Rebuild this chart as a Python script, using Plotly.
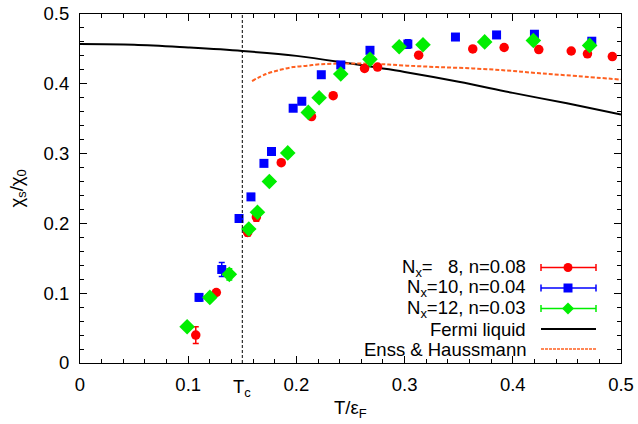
import plotly.graph_objects as go

# ---------------- data ----------------
nx8_T = [0.107, 0.126, 0.155, 0.163, 0.186, 0.214, 0.234, 0.263, 0.275, 0.313, 0.363, 0.392, 0.424, 0.454, 0.469, 0.492]
nx8_chi = [0.040, 0.101, 0.187, 0.209, 0.287, 0.353, 0.383, 0.422, 0.424, 0.441, 0.450, 0.452, 0.449, 0.447, 0.443, 0.439]
nx8_err = [0.012, 0.004, 0.005, 0.006, 0.003, 0.003, 0.003, 0.003, 0.003, 0.003, 0.003, 0.003, 0.003, 0.003, 0.003, 0.003]

nx10_T = [0.110, 0.131, 0.147, 0.158, 0.170, 0.177, 0.197, 0.205, 0.223, 0.241, 0.268, 0.303, 0.347, 0.385, 0.420, 0.473]
nx10_chi = [0.094, 0.134, 0.207, 0.238, 0.286, 0.303, 0.365, 0.375, 0.413, 0.427, 0.448, 0.457, 0.467, 0.470, 0.471, 0.461]
nx10_err = [0.005, 0.010, 0.004, 0.003, 0.003, 0.003, 0.003, 0.003, 0.003, 0.003, 0.003, 0.006, 0.003, 0.003, 0.004, 0.003]

nx12_T = [0.099, 0.120, 0.138, 0.156, 0.164, 0.175, 0.192, 0.211, 0.221, 0.241, 0.268, 0.295, 0.317, 0.374, 0.419, 0.471]
nx12_chi = [0.052, 0.094, 0.127, 0.192, 0.216, 0.260, 0.301, 0.359, 0.380, 0.414, 0.435, 0.453, 0.456, 0.460, 0.462, 0.455]
nx12_err = [0.004, 0.004, 0.008, 0.005, 0.005, 0.003, 0.003, 0.003, 0.003, 0.003, 0.003, 0.003, 0.003, 0.003, 0.003, 0.003]

fermi_T = [0.0, 0.05, 0.10, 0.15, 0.20, 0.25, 0.30, 0.35, 0.40, 0.45, 0.50]
fermi_chi = [0.457, 0.456, 0.452, 0.447, 0.440, 0.429, 0.417, 0.403, 0.387, 0.372, 0.356]

enss_T = [0.159, 0.172, 0.185, 0.197, 0.210, 0.222, 0.240, 0.259, 0.280, 0.302, 0.330, 0.363, 0.395, 0.425, 0.460, 0.500]
enss_chi = [0.404, 0.414, 0.420, 0.424, 0.426, 0.428, 0.429, 0.429, 0.428, 0.426, 0.424, 0.422, 0.419, 0.415, 0.411, 0.406]

Tc = 0.15
x_ticks = [0, 0.1, 0.2, 0.3, 0.4, 0.5]
y_ticks = [0, 0.1, 0.2, 0.3, 0.4, 0.5]

legend_labels = ["N<sub>x</sub>=\u2007 8, n=0.08", "N<sub>x</sub>=10, n=0.04", "N<sub>x</sub>=12, n=0.03",
                 "Fermi liquid", "Enss & Haussmann"]

RED, BLUE, GREEN, ORANGE = "#ff0000", "#0000ff", "#00ee00", "#ff6020"
FONT = "Liberation Sans, Arial, sans-serif"
FS = 18.5

W, H = 638, 424
L, R, T, B = 80, 17, 14, 61

fig = go.Figure()

fig.add_trace(go.Scatter(x=fermi_T, y=fermi_chi, mode="lines", line=dict(color="black", width=2, shape="spline"),
                         showlegend=False))
fig.add_trace(go.Scatter(x=enss_T, y=enss_chi, mode="lines",
                         line=dict(color=ORANGE, width=2, dash="4px,2px", shape="spline"), showlegend=False))

def data_trace(x, y, e, color, symbol, size):
    return go.Scatter(x=x, y=y, mode="markers",
                      marker=dict(color=color, symbol=symbol, size=size, line=dict(width=0)),
                      error_y=dict(type="data", array=e, visible=True, color=color, thickness=1.5, width=3),
                      showlegend=False, cliponaxis=False)

fig.add_trace(data_trace(nx8_T, nx8_chi, nx8_err, RED, "circle", 9.5))
fig.add_trace(data_trace(nx10_T, nx10_chi, nx10_err, BLUE, "square", 9))
fig.add_trace(data_trace(nx12_T, nx12_chi, nx12_err, GREEN, "diamond", 12))

# Tc dashed line
fig.add_shape(type="line", x0=Tc, x1=Tc, y0=0, y1=1, xref="x", yref="paper",
              line=dict(color="black", width=1, dash="3px,2px"))

# manual legend (pixel positions converted to paper coords)
pw, ph = W - L - R, H - T - B
def px(xp): return (xp - L) / pw
def py(yp): return (H - B - yp) / ph

rows = [267.5, 288, 308.5, 329, 349]
text_right = 528
line_x0, line_x1, mark_x = 541, 596, 568
styles = [(RED, "circle"), (BLUE, "square"), (GREEN, "diamond"), ("black", None), (ORANGE, None)]
for i, (lab, yrow, (col, sym)) in enumerate(zip(legend_labels, rows, styles)):
    fig.add_annotation(x=px(text_right), y=py(yrow), xref="paper", yref="paper", text=lab,
                       showarrow=False, xanchor="right", yanchor="middle",
                       font=dict(family=FONT, size=FS, color="black"))
    if i < 3:
        fig.add_shape(type="line", xref="paper", yref="paper", x0=px(line_x0), x1=px(line_x1),
                      y0=py(yrow), y1=py(yrow), line=dict(color=col, width=1.5))
        for xc in (line_x0, line_x1):
            fig.add_shape(type="line", xref="paper", yref="paper", x0=px(xc), x1=px(xc),
                          y0=py(yrow - 3.5), y1=py(yrow + 3.5), line=dict(color=col, width=1.5))
        xa, ya = px(mark_x), py(yrow)
        if sym == "circle":
            fig.add_shape(type="circle", xref="paper", yref="paper", xsizemode="pixel", ysizemode="pixel",
                          xanchor=xa, yanchor=ya, x0=-4.5, x1=4.5, y0=-4.5, y1=4.5,
                          fillcolor=col, line=dict(width=0))
        elif sym == "square":
            fig.add_shape(type="rect", xref="paper", yref="paper", xsizemode="pixel", ysizemode="pixel",
                          xanchor=xa, yanchor=ya, x0=-4.5, x1=4.5, y0=-4.5, y1=4.5,
                          fillcolor=col, line=dict(width=0))
        else:
            fig.add_shape(type="path", xref="paper", yref="paper", xsizemode="pixel", ysizemode="pixel",
                          xanchor=xa, yanchor=ya, path="M -6 0 L 0 6 L 6 0 L 0 -6 Z",
                          fillcolor=col, line=dict(width=0))
    else:
        fig.add_shape(type="line", xref="paper", yref="paper", x0=px(line_x0), x1=px(line_x1),
                      y0=py(yrow), y1=py(yrow),
                      line=dict(color=col, width=2 if i == 3 else 1.5,
                                dash="solid" if i == 3 else "3px,1px"))

# Tc tick label
fig.add_annotation(x=Tc, y=0, xref="x", yref="paper", yshift=-11, text="T<sub>c</sub>", showarrow=False,
                   xanchor="center", yanchor="top", font=dict(family=FONT, size=FS, color="black"))

# y-axis title placed as rotated annotation
fig.add_annotation(x=px(17), y=0.5, xref="paper", yref="paper", text="χ<sub>s</sub>/χ<sub>0</sub>",
                   showarrow=False, textangle=-90, xanchor="center", yanchor="middle",
                   font=dict(family=FONT, size=FS, color="black"))
# x-axis title
fig.add_annotation(x=0.5, y=py(409), xref="paper", yref="paper", text="T/ε<sub>F</sub>",
                   showarrow=False, xanchor="center", yanchor="middle",
                   font=dict(family=FONT, size=FS, color="black"))

axis_common = dict(showgrid=False, zeroline=False, showline=True, linecolor="black", linewidth=1,
                   mirror="allticks", ticks="inside", ticklen=7, tickwidth=1, tickcolor="black",
                   automargin=False, range=[0, 0.5],
                   tickfont=dict(family=FONT, size=FS, color="black"),
                   minor=dict(ticks="inside", dtick=0.02, tick0=0, ticklen=4, tickcolor="black"))

fig.update_xaxes(tickvals=x_ticks, ticktext=[("%g" % v) for v in x_ticks], ticklabelstandoff=5, **axis_common)
fig.update_yaxes(tickvals=y_ticks, ticktext=[("%g" % v) for v in y_ticks], ticklabelstandoff=6, **axis_common)

fig.update_layout(width=W, height=H, margin=dict(l=L, r=R, t=T, b=B), plot_bgcolor="white",
                  paper_bgcolor="white", showlegend=False, font=dict(family=FONT))

fig.write_html("out.html", config={"displayModeBar": False},
               post_script="document.body.style.margin='0';document.body.style.padding='0';"
                           "document.documentElement.style.overflow='hidden';")
